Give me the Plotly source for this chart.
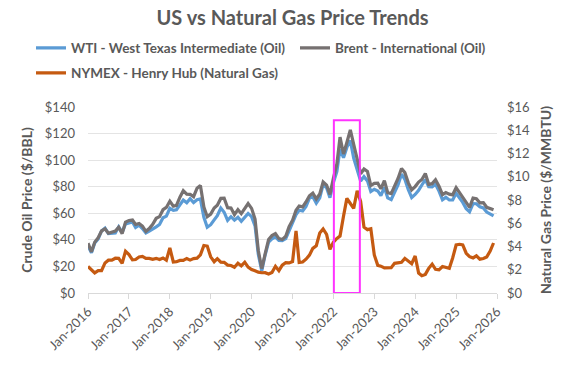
import pandas as pd
import plotly.graph_objects as go

months = pd.date_range("2016-01-01", "2025-12-01", freq="MS")

wti = [
    35.5, 30.3, 37.6, 40.8, 46.7, 48.8, 44.7, 44.7, 45.2, 49.8, 45.7, 52.0,
    52.5, 53.5, 49.3, 51.1, 48.5, 45.2, 46.6, 48.0, 49.8, 51.6, 56.6, 57.9,
    63.7, 62.2, 62.7, 66.3, 70.0, 67.9, 71.0, 68.1, 70.2, 70.8, 57.0, 49.5,
    51.4, 55.0, 58.2, 63.9, 60.8, 54.7, 57.4, 54.8, 57.0, 54.0, 57.0, 59.9,
    57.5, 50.5, 29.2, 16.6, 28.6, 38.3, 40.7, 42.3, 39.6, 39.4, 40.9, 47.0,
    52.0, 59.0, 62.3, 61.7, 65.2, 71.4, 72.5, 67.7, 71.7, 81.5, 79.2, 71.7,
    83.2, 91.6, 108.5, 101.8, 109.6, 114.8, 101.6, 93.7, 84.3, 87.6, 84.4, 76.4,
    78.1, 76.8, 73.3, 79.5, 71.6, 70.3, 76.1, 81.4, 89.4, 85.6, 77.7, 71.9,
    74.2, 77.3, 81.3, 85.4, 80.0, 79.8, 81.8, 76.7, 70.2, 72.0, 70.0, 70.1,
    75.1, 71.5, 68.2, 63.5, 61.1, 67.3, 67.2, 64.9, 64.0, 60.9, 59.6, 58.0,
]

brent = [
    37.5, 31.0, 38.2, 41.6, 46.7, 48.3, 45.0, 45.8, 46.6, 49.5, 44.7, 53.3,
    54.6, 54.9, 51.6, 52.3, 50.3, 46.4, 48.5, 51.7, 56.2, 57.5, 62.7, 64.4,
    69.1, 65.3, 66.0, 72.1, 77.0, 74.4, 74.3, 72.5, 78.9, 81.0, 64.8, 57.4,
    59.4, 64.0, 66.1, 71.2, 71.3, 64.2, 63.9, 59.0, 62.8, 59.7, 63.2, 67.3,
    63.7, 55.7, 32.0, 18.4, 29.4, 40.3, 43.2, 44.7, 40.9, 40.2, 42.7, 50.0,
    54.8, 62.3, 65.4, 64.8, 68.5, 73.2, 75.2, 70.8, 74.5, 83.5, 81.1, 74.2,
    86.5, 97.1, 117.3, 104.6, 113.3, 122.7, 111.9, 100.5, 89.8, 93.3, 91.4, 80.9,
    82.5, 82.6, 78.4, 84.6, 75.5, 74.8, 80.1, 86.2, 93.7, 90.6, 82.9, 77.6,
    80.1, 83.5, 85.4, 89.9, 81.8, 82.3, 85.2, 80.4, 74.0, 75.6, 74.4, 73.9,
    79.3, 75.4, 72.7, 68.1, 64.5, 71.4, 71.0, 67.9, 68.0, 64.5, 63.6, 62.6,
]

henry_hub = [
    2.28, 1.99, 1.73, 1.92, 1.92, 2.59, 2.82, 2.82, 2.99, 2.98, 2.55, 3.59,
    3.30, 2.85, 2.88, 3.10, 3.15, 2.98, 2.98, 2.90, 2.98, 2.88, 3.01, 2.82,
    3.87, 2.67, 2.69, 2.80, 2.80, 2.97, 2.83, 2.96, 3.00, 3.28, 4.09, 4.04,
    3.11, 2.69, 2.95, 2.65, 2.64, 2.40, 2.37, 2.22, 2.56, 2.33, 2.65, 2.22,
    2.02, 1.91, 1.79, 1.74, 1.75, 1.63, 1.77, 2.30, 1.92, 2.39, 2.61, 2.59,
    2.71, 5.35, 2.62, 2.66, 2.91, 3.26, 3.84, 4.07, 5.16, 5.51, 5.05, 3.76,
    4.38, 4.69, 4.90, 6.60, 8.14, 7.70, 7.28, 8.80, 7.88, 5.66, 5.45, 5.53,
    3.27, 2.38, 2.31, 2.16, 2.15, 2.18, 2.55, 2.58, 2.64, 2.98, 2.71, 2.52,
    3.18, 1.72, 1.49, 1.60, 2.12, 2.48, 2.04, 1.99, 2.28, 2.20, 2.12, 3.01,
    4.13, 4.19, 4.13, 3.42, 3.12, 3.02, 3.20, 2.91, 2.97, 3.10, 3.60, 4.30,
]

oil_ticks = [0, 20, 40, 60, 80, 100, 120, 140]
oil_labels = ["$0", "$20", "$40", "$60", "$80", "$100", "$120", "$140"]
gas_ticks = [0, 2, 4, 6, 8, 10, 12, 14, 16]
gas_labels = ["$0", "$2", "$4", "$6", "$8", "$10", "$12", "$14", "$16"]
year_ticks = list(pd.date_range("2016-01-01", "2026-01-01", freq="YS"))
year_labels = [f"Jan-{d.year}" for d in year_ticks]
highlight = ("2022-01-05", "2022-08-25", 0, 130)

FONT = "Lato"
GREY = "#595959"

fig = go.Figure()
fig.add_trace(go.Scatter(x=months, y=wti, mode="lines", name="<b>WTI - West Texas Intermediate (Oil)</b>",
                         line=dict(color="#5B9BD5", width=3.2), legend="legend"))
fig.add_trace(go.Scatter(x=months, y=brent, mode="lines", name="<b>Brent - International (Oil)</b>",
                         line=dict(color="#767171", width=3.2), legend="legend2"))
fig.add_trace(go.Scatter(x=months, y=henry_hub, mode="lines", name="<b>NYMEX - Henry Hub (Natural Gas)</b>",
                         line=dict(color="#C55A11", width=3.2), yaxis="y2", legend="legend3"))

fig.add_shape(type="rect", xref="x", yref="y", x0=highlight[0], x1=highlight[1],
              y0=highlight[2], y1=highlight[3], line=dict(color="#FF33FF", width=2))

leg_common = dict(orientation="h", xref="container", yref="container", xanchor="left",
                  yanchor="middle", font=dict(size=13.5, color=GREY, family=FONT),
                  bgcolor="rgba(0,0,0,0)")

fig.update_layout(
    width=575, height=365,
    margin=dict(l=88, r=78, t=107, b=72, autoexpand=False),
    paper_bgcolor="white", plot_bgcolor="white",
    font=dict(family=FONT, color=GREY),
    title=dict(text="<b>US vs Natural Gas Price Trends</b>", x=0.5, xref="paper", y=1 - 18 / 365,
               yanchor="middle", font=dict(size=20, color=GREY, family=FONT)),
    xaxis=dict(type="date", range=["2016-01-01", "2026-01-01"], tickvals=year_ticks,
               ticktext=year_labels, tickangle=-45, tickfont=dict(size=13, color=GREY),
               showgrid=False, showline=True, linecolor="#D9D9D9", linewidth=1,
               ticks="outside", ticklen=5, tickcolor="#D9D9D9", zeroline=False),
    yaxis=dict(range=[0, 140], tickvals=oil_ticks, ticktext=oil_labels,
               tickfont=dict(size=13, color=GREY), showgrid=True, gridcolor="#E4E4E4",
               zeroline=False, ticklabelstandoff=12,
               title=dict(text="<b>Crude Oil Price ($/BBL)</b>", font=dict(size=14, color=GREY), standoff=8)),
    yaxis2=dict(range=[0, 16], tickvals=gas_ticks, ticktext=gas_labels, overlaying="y", side="right",
                tickfont=dict(size=13, color=GREY), showgrid=False, zeroline=False,
                ticklabelstandoff=9,
                title=dict(text="<b>Natural Gas Price ($/MMBTU)</b>", font=dict(size=14, color=GREY), standoff=12)),
    legend=dict(x=31 / 575, y=1 - 48 / 365, **leg_common),
    legend2=dict(x=295 / 575, y=1 - 48 / 365, **leg_common),
    legend3=dict(x=31 / 575, y=1 - 73 / 365, **leg_common),
    showlegend=True,
)

fig.write_html("out.html", config={"displayModeBar": False},
               post_script="document.body.style.margin='0';document.body.style.overflow='hidden';")
